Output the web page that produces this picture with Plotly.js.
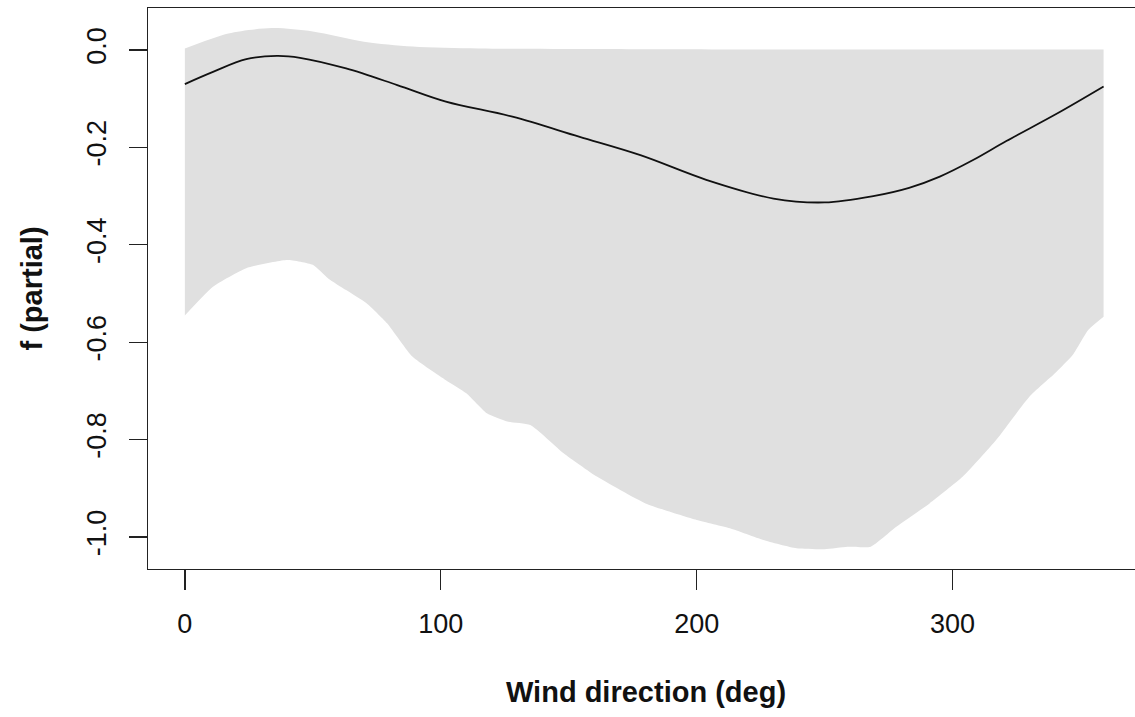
<!DOCTYPE html>
<html>
<head>
<meta charset="utf-8">
<script src="https://cdn.plot.ly/plotly-3.0.1.min.js"></script>
<style>
html, body { margin: 0; padding: 0; background: #fff; overflow: hidden; }
#chart { width: 1146px; height: 717px; }
</style>
</head>
<body>
<div id="chart"></div>
<script>
// Fitted smooth term f(wind direction)
const fitX = [0, 11, 24, 36, 45, 63, 83, 102, 128, 154, 178, 204, 230, 250, 269, 283, 295, 308, 321, 341, 359];
const fitY = [-0.070, -0.045, -0.019, -0.012, -0.016, -0.038, -0.072, -0.106, -0.137, -0.178, -0.216, -0.267, -0.305, -0.313, -0.300, -0.283, -0.260, -0.226, -0.187, -0.130, -0.075];

// Upper confidence limit
const upX = [0, 17, 34, 50, 70, 89, 115, 160, 220, 280, 359];
const upY = [0.003, 0.034, 0.045, 0.038, 0.017, 0.007, 0.003, 0.002, 0.001, 0.001, 0.001];

// Lower confidence limit
const loX = [0, 11, 24, 40, 50, 56, 63, 71, 79, 89, 102, 110, 118, 126, 135, 148, 161, 180, 200, 213, 226, 239, 250, 259, 268, 278, 291, 304, 317, 330, 340, 347, 353, 359];
const loY = [-0.545, -0.486, -0.448, -0.431, -0.441, -0.469, -0.493, -0.520, -0.561, -0.630, -0.678, -0.705, -0.746, -0.763, -0.770, -0.828, -0.876, -0.931, -0.965, -0.982, -1.006, -1.023, -1.025, -1.020, -1.020, -0.979, -0.931, -0.876, -0.801, -0.712, -0.664, -0.626, -0.575, -0.548];

const xTickVals = [0, 100, 200, 300];
const xTickText = ["0", "100", "200", "300"];
const yTickVals = [0, -0.2, -0.4, -0.6, -0.8, -1.0];
const yTickText = ["0.0", "-0.2", "-0.4", "-0.6", "-0.8", "-1.0"];

const xLabel = "Wind direction (deg)";
const yLabel = "f (partial)";

const traces = [
  {
    x: loX, y: loY, type: "scatter", mode: "lines",
    line: { width: 0, color: "rgba(0,0,0,0)", shape: "spline", smoothing: 0.5 },
    hoverinfo: "skip", showlegend: false
  },
  {
    x: upX, y: upY, type: "scatter", mode: "lines",
    fill: "tonexty", fillcolor: "#e0e0e0",
    line: { width: 0, color: "rgba(0,0,0,0)", shape: "spline", smoothing: 0.8 },
    hoverinfo: "skip", showlegend: false
  },
  {
    x: fitX, y: fitY, type: "scatter", mode: "lines",
    line: { color: "#111", width: 1.8, shape: "spline", smoothing: 1 },
    showlegend: false
  }
];

const axisFont = { family: "Liberation Sans, Arial, sans-serif", size: 27, color: "#111" };

const layout = {
  width: 1146, height: 717,
  margin: { l: 148, r: 3, t: 8, b: 148, pad: 0 },
  paper_bgcolor: "#fff", plot_bgcolor: "#fff",
  showlegend: false,
  xaxis: {
    range: [-14.4, 374.4], tickvals: xTickVals, ticktext: xTickText,
    ticks: "outside", ticklen: 20, tickwidth: 1.3, tickcolor: "#222",
    showline: true, mirror: true, linecolor: "#222", linewidth: 1.3,
    showgrid: false, zeroline: false, tickfont: axisFont, ticklabelstandoff: 10
  },
  yaxis: {
    range: [-1.0657, 0.0862], tickvals: yTickVals, ticktext: yTickText,
    ticks: "outside", ticklen: 18, tickwidth: 1.3, tickcolor: "#222",
    showline: true, mirror: true, linecolor: "#222", linewidth: 1.3,
    showgrid: false, zeroline: false, tickfont: axisFont, tickangle: -90,
    ticklabelstandoff: 12
  },
  annotations: [
    {
      text: "<b>" + xLabel + "</b>", xref: "paper", yref: "paper", x: 0.5, y: 0,
      xanchor: "center", yanchor: "middle", yshift: -123, showarrow: false,
      font: { family: "Liberation Sans, Arial, sans-serif", size: 29, color: "#111" }
    },
    {
      text: "<b>" + yLabel + "</b>", xref: "paper", yref: "paper", x: 0, y: 0.5,
      xanchor: "center", yanchor: "middle", xshift: -117, textangle: -90, showarrow: false,
      font: { family: "Liberation Sans, Arial, sans-serif", size: 29, color: "#111" }
    }
  ]
};

Plotly.newPlot("chart", traces, layout, { displayModeBar: false, staticPlot: true });
</script>
</body>
</html>
